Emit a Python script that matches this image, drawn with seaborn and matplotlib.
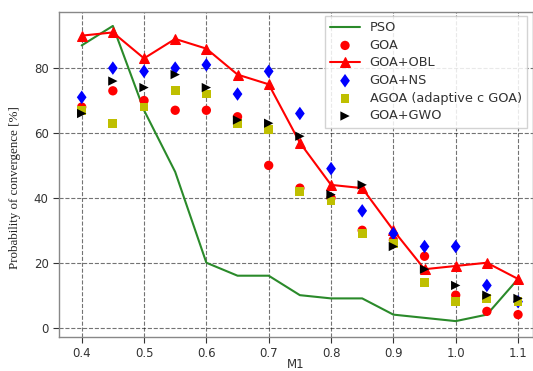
import matplotlib
matplotlib.use("Agg")
import matplotlib.pyplot as plt
import seaborn as sns
import pandas as pd

m1 = [0.4, 0.45, 0.5, 0.55, 0.6, 0.65, 0.7, 0.75, 0.8, 0.85, 0.9, 0.95, 1.0, 1.05, 1.1]
pso = [87, 93, 67, 48, 20, 16, 16, 10, 9, 9, 4, 3, 2, 4, 15]
goa = [68, 73, 70, 67, 67, 65, 50, 43, 40, 30, 27, 22, 10, 5, 4]
goa_obl = [90, 91, 83, 89, 86, 78, 75, 57, 44, 43, 30, 18, 19, 20, 15]
goa_ns = [71, 80, 79, 80, 81, 72, 79, 66, 49, 36, 29, 25, 25, 13, 8]
agoa = [67, 63, 68, 73, 72, 63, 61, 42, 39, 29, 26, 14, 8, 9, 8]
goa_gwo = [66, 76, 74, 78, 74, 64, 63, 59, 41, 44, 25, 18, 13, 10, 9]
y_ticks = [0, 20, 40, 60, 80]
x_ticks = [0.4, 0.5, 0.6, 0.7, 0.8, 0.9, 1.0, 1.1]
x_tick_labels = ["0.4", "0.5", "0.6", "0.7", "0.8", "0.9", "1.0", "1.1"]

df = pd.DataFrame({"M1": m1, "PSO": pso, "GOA": goa, "GOA+OBL": goa_obl,
                   "GOA+NS": goa_ns, "AGOA": agoa, "GOA+GWO": goa_gwo})

diamond = [(0, -1), (0.72, 0), (0, 1), (-0.72, 0), (0, -1)]

sns.set_style("white")
fig = plt.figure(figsize=(5.33, 3.71), dpi=100)
ax = fig.add_axes([0.1107, 0.0925, 0.8893, 0.8752])

sns.lineplot(data=df, x="M1", y="PSO", ax=ax, color="#2a8a2a", lw=1.5, label="PSO")
sns.scatterplot(data=df, x="M1", y="GOA", ax=ax, color="red", marker="o", s=45,
                edgecolor="none", label="GOA", zorder=3)
sns.lineplot(data=df, x="M1", y="GOA+OBL", ax=ax, color="red", lw=1.5, marker="^",
             markersize=7, markeredgecolor="red", label="GOA+OBL")
sns.scatterplot(data=df, x="M1", y="GOA+NS", ax=ax, color="blue", marker=diamond, s=95,
                edgecolor="none", label="GOA+NS", zorder=3)
sns.scatterplot(data=df, x="M1", y="AGOA", ax=ax, color="#bfbf00", marker="s", s=40,
                edgecolor="none", label="AGOA (adaptive c GOA)", zorder=3)
sns.scatterplot(data=df, x="M1", y="GOA+GWO", ax=ax, color="black", marker=">", s=45,
                edgecolor="none", label="GOA+GWO", zorder=3)

ax.set_xlim(0.3636, 1.124)
ax.set_ylim(-2.8, 97.3)
ax.set_xticks(x_ticks)
ax.set_yticks(y_ticks)
ax.set_xticklabels(x_tick_labels)
ax.grid(True, color="black", linestyle="--", linewidth=0.8, alpha=0.55)
ax.tick_params(axis="both", labelsize=8.5, colors="#333333", length=4, width=0.8,
               direction="out", left=True, bottom=True)
for sp in ax.spines.values():
    sp.set_color("#888888")
    sp.set_linewidth(1.0)

ax.set_xlabel("M1", fontsize=8.5, color="#333333", labelpad=-1.5)
ax.set_ylabel("Probability of convergence [%]", fontsize=9.4,
              family="Liberation Serif", color="#222222")
ax.yaxis.set_label_coords(-0.080, 0.46)

leg = ax.legend(loc="upper left", fontsize=9.3, frameon=True, framealpha=0.85,
                edgecolor="#cccccc", fancybox=False, labelspacing=0.36,
                handlelength=2.3, handletextpad=0.75, borderpad=0.4,
                borderaxespad=0, bbox_to_anchor=(325 / 533, 1 - 16 / 371),
                bbox_transform=fig.transFigure)
for t in leg.get_texts():
    t.set_color("#333333")

fig.savefig("out.png", dpi=100)
